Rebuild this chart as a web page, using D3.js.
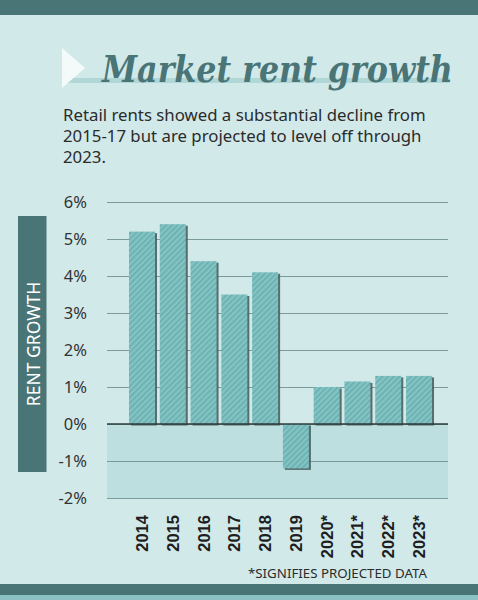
<!DOCTYPE html>
<html><head><meta charset="utf-8">
<script src="https://cdn.jsdelivr.net/npm/d3@7"></script>
<style>html,body{margin:0;padding:0;background:#d2e9ea;}svg{display:block;}</style>
</head><body>
<script>
const years = ["2014","2015","2016","2017","2018","2019","2020*","2021*","2022*","2023*"];
const growth = [5.2, 5.4, 4.4, 3.5, 4.1, -1.2, 1.0, 1.15, 1.3, 1.3];
const yTicks = [-2,-1,0,1,2,3,4,5,6];
const titleText = "Market rent growth";
const subtitleLines = ["Retail rents showed a substantial decline from","2015-17 but are projected to level off through","2023."];
const axisTitle = "RENT GROWTH";
const footnote = "*SIGNIFIES PROJECTED DATA";

const W = 478, H = 600;
const svg = d3.select("body").append("svg").attr("width", W).attr("height", H);
const defs = svg.append("defs");
const pat = defs.append("pattern").attr("id","hatch").attr("patternUnits","userSpaceOnUse")
  .attr("width",4).attr("height",4).attr("patternTransform","rotate(45)");
pat.append("rect").attr("width",4).attr("height",4).attr("fill","#82c3c3");
pat.append("rect").attr("width",1.4).attr("height",4).attr("fill","#68acad");

svg.append("rect").attr("width",W).attr("height",H).attr("fill","#d2e9ea");
svg.append("rect").attr("x",0).attr("y",0).attr("width",W).attr("height",15).attr("fill","#4a7577");
svg.append("rect").attr("x",0).attr("y",584).attr("width",W).attr("height",11).attr("fill","#4a7577");
svg.append("rect").attr("x",0).attr("y",595).attr("width",W).attr("height",5).attr("fill","#8cc2c3");

// title
svg.append("rect").attr("x",62).attr("y",78).attr("width",388).attr("height",5).attr("fill","#b0d6d6");
svg.append("path").attr("d","M62,48 L85,68 L62,88 Z").attr("fill","#f4fafa");
const tt = svg.append("text").attr("font-family","DejaVu Serif")
  .attr("font-weight","bold").attr("font-style","italic").attr("font-size",37)
  .attr("fill","#4a7577").text(titleText);
const tw = tt.node().getComputedTextLength();
tt.attr("transform",`translate(102,82) scale(${351/tw},1)`);

svg.append("g").selectAll("text").data(subtitleLines).join("text")
  .attr("x",63).attr("y",(d,i)=>120.5+i*21.3).attr("font-family","Noto Sans").attr("font-size",16.8)
  .attr("fill","#2b2b2b").text(d=>d);

const x = d3.scaleBand().domain(years).range([126.6,434.4]).paddingInner(0.155).paddingOuter(0.0775);
const y = d3.scaleLinear().domain([-2,6]).range([498,202]);
const gx0 = 107, gx1 = 448;

svg.append("rect").attr("x",gx0).attr("y",y(0)).attr("width",gx1-gx0).attr("height",y(-2)-y(0)).attr("fill","#bddfdf");

const yAxis = d3.axisLeft(y).tickValues(yTicks).tickSize(-(gx1-gx0)).tickFormat(d=>d+"%").tickPadding(20);
const ga = svg.append("g").attr("transform",`translate(${gx0},0)`).call(yAxis);
ga.select(".domain").remove();
ga.selectAll(".tick line").attr("stroke","#7d9a9a").attr("stroke-width",1.1);
ga.selectAll(".tick text").attr("font-family","Noto Sans").attr("font-size",16.5).attr("fill","#333")
  .attr("x",-20);

// bars shadow
svg.append("g").selectAll("rect").data(years).join("rect")
  .attr("x",d=>x(d)+2).attr("y",(d,i)=>Math.min(y(growth[i]),y(0))+1.5)
  .attr("width",x.bandwidth()).attr("height",(d,i)=>Math.abs(y(growth[i])-y(0)))
  .attr("fill","#48605f").attr("opacity",0.9);
svg.append("g").selectAll("rect").data(years).join("rect")
  .attr("x",d=>x(d)).attr("y",(d,i)=>Math.min(y(growth[i]),y(0)))
  .attr("width",x.bandwidth()).attr("height",(d,i)=>Math.abs(y(growth[i])-y(0)))
  .attr("fill","url(#hatch)");

svg.append("line").attr("x1",gx0).attr("x2",gx1).attr("y1",y(0)).attr("y2",y(0)).attr("stroke","#2f3b3b").attr("stroke-width",1.6);

// x labels
svg.append("g").selectAll("text").data(years).join("text")
  .attr("transform",d=>`translate(${x(d)+x.bandwidth()/2+6},515) rotate(-90)`)
  .attr("text-anchor","end").attr("font-family","Liberation Sans").attr("font-weight","bold")
  .attr("font-size",16.5).attr("fill","#1e1e1e").text(d=>d);

// axis title box
svg.append("rect").attr("x",18).attr("y",216).attr("width",28.5).attr("height",256).attr("fill","#4a7577");
svg.append("text").attr("transform","translate(39.5,344) rotate(-90)").attr("text-anchor","middle")
  .attr("font-family","Noto Sans").attr("font-size",17.5).attr("fill","#ffffff").text(axisTitle);

svg.append("text").attr("x",427).attr("y",578).attr("text-anchor","end").attr("font-family","Noto Sans")
  .attr("font-size",13.3).attr("fill","#2b2b2b").text(footnote);
</script>
</body></html>
